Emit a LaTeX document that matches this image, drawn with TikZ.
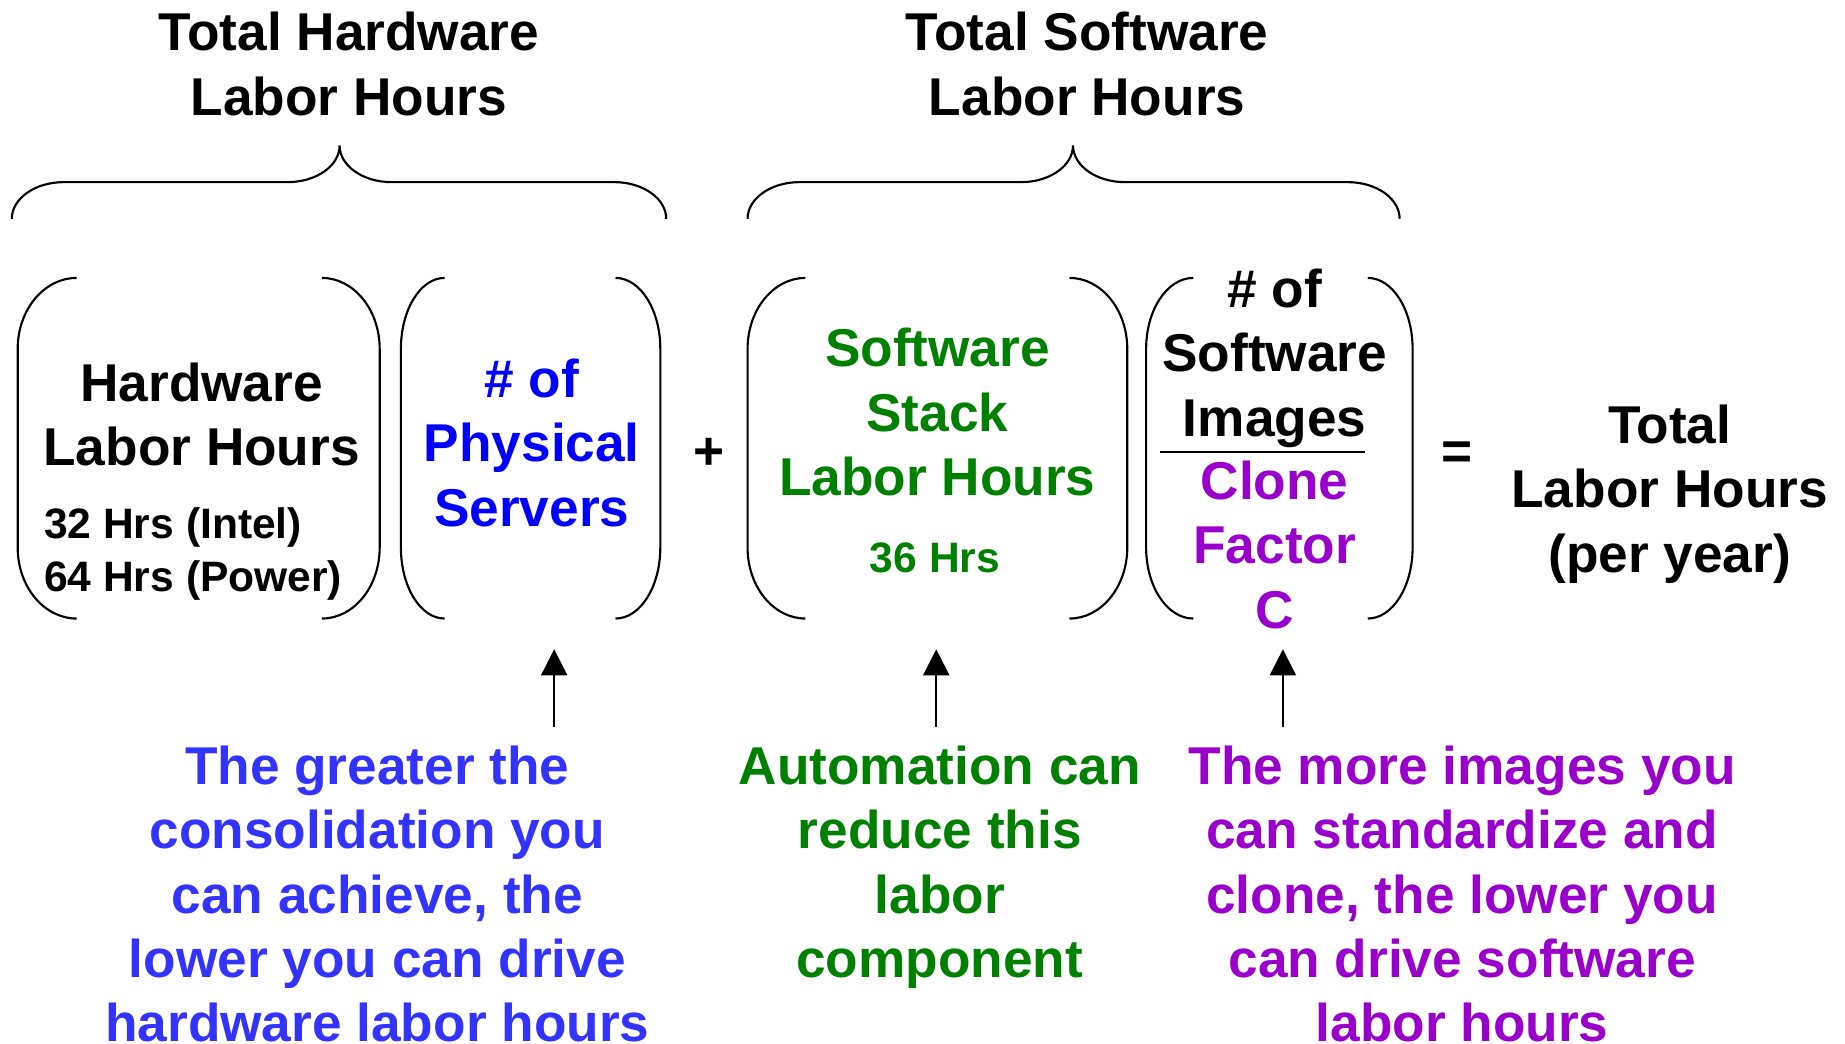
\documentclass[tikz,border=0pt]{standalone}
\usepackage{fontspec}
\setmainfont{Liberation Sans}
\usetikzlibrary{arrows.meta}
\definecolor{srvblue}{RGB}{0,0,255}
\definecolor{noteblue}{RGB}{51,51,255}
\definecolor{stackgreen}{RGB}{0,128,0}
\definecolor{clonepurple}{RGB}{153,0,204}
\newcommand\myparens[4]{%
  \draw[paren] (#2,235) .. controls ({#2-0.552*(#2-#1)},235) and (#1,261.9) .. (#1,295)
     -- (#1,463) .. controls (#1,496.1) and ({#2-0.552*(#2-#1)},523) .. (#2,523);
  \draw[paren] (#3,235) .. controls ({#3+0.552*(#4-#3)},235) and (#4,261.9) .. (#4,295)
     -- (#4,463) .. controls (#4,496.1) and ({#3+0.552*(#4-#3)},523) .. (#3,523);}
\newcommand\mybrace[3]{%
  \draw[bracestyle] (#1,185) .. controls (#1,167.9) and ({#1+19.7},154) .. ({#1+44},154)
    -- ({#2-44},154) .. controls ({#2-19.7},154) and (#2,140.1) .. (#2,123)
    .. controls (#2,140.1) and ({#2+19.7},154) .. ({#2+44},154)
    -- ({#3-44},154) .. controls ({#3-19.7},154) and (#3,167.9) .. (#3,185);}
\begin{document}
\begin{tikzpicture}[x=0.4985pt,y=-0.5pt,
  big/.style={font=\fontsize{22.5pt}{27.25pt}\selectfont\bfseries, align=center, anchor=base, inner sep=0pt},
  small/.style={font=\fontsize{18pt}{22.5pt}\selectfont\bfseries, inner sep=0pt},
  paren/.style={line width=0.9pt},
  bracestyle/.style={line width=0.9pt},
  uparrow/.style={line width=0.9pt, -{Triangle[width=11pt,length=11pt]}}]
\useasboundingbox (0,0) rectangle (1564.7,882);

% titles and braces (anchor = baseline of last line)
\node[big] (hwtitle) at (296,97.5) {Total Hardware\\Labor Hours};
\node[big] (swtitle) at (922,97.5) {Total Software\\Labor Hours};
\mybrace{10}{288}{565}
\mybrace{634}{910}{1187}

% parenthesised boxes
\myparens{15}{65}{273}{322}
\myparens{340}{377}{522}{560}
\myparens{634}{683}{907}{956}
\myparens{972}{1012}{1160}{1198}

% box contents
\node[big] (hwlabor) at (171,394) {Hardware\\Labor Hours};
\node[small, align=left, anchor=base west] (hwhrs) at (37,500) {32 Hrs (Intel)\\[0pt]64 Hrs (Power)};
\node[big, text=srvblue] (servers) at (451,445) {\# of\\Physical\\Servers};
\node[big, anchor=center] (plus) at (601,384) {+};
\node[big, text=stackgreen] (stack) at (795,419) {Software\\Stack\\Labor Hours};
\node[small, anchor=base, text=stackgreen] (stackhrs) at (793,484) {36 Hrs};
\node[big] (images) at (1081,369) {\# of\\Software\\Images};
\coordinate (fracl) at (984,382);
\coordinate (fracr) at (1158,382);
\draw[line width=0.8pt] (fracl) -- (fracr);
\node[big, text=clonepurple] (clone) at (1081,531) {Clone\\Factor\\C};
\node[big, anchor=center] (equals) at (1236,385) {=};
\node[big] (total) at (1416,484) {Total\\Labor Hours\\(per year)};

% arrows
\coordinate (a1s) at (470,615); \coordinate (a1e) at (470,549);
\coordinate (a2s) at (794,615); \coordinate (a2e) at (794,549);
\coordinate (a3s) at (1088,615); \coordinate (a3e) at (1088,549);
\draw[uparrow] (a1s) -- (a1e);
\draw[uparrow] (a2s) -- (a2e);
\draw[uparrow] (a3s) -- (a3e);

% notes
\node[big, text=noteblue] (note1) at (320,881) {The greater the\\consolidation you\\can achieve, the\\lower you can drive\\hardware labor hours};
\node[big, text=stackgreen] (note2) at (797,826.5) {Automation can\\reduce this\\labor\\component};
\node[big, text=clonepurple] (note3) at (1240,881) {The more images you\\can standardize and\\clone, the lower you\\can drive software\\labor hours};
\end{tikzpicture}
\end{document}
